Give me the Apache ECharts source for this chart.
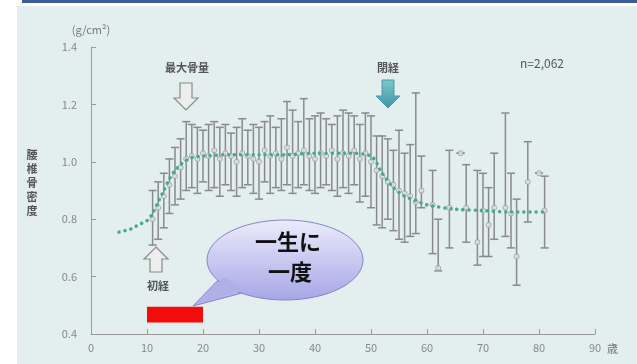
<!DOCTYPE html>
<html>
  <head>
    <meta charset="UTF-8">
    <title>骨密度</title>
    <script src="https://cdn.jsdelivr.net/npm/echarts@6/dist/echarts.min.js"></script>
    <style>
      body { margin: 0; background: #fff; }
    </style>
  </head>
  <body>
    <div id="myChart" style="width: 637px;height:364px;"></div>
    <script type="text/javascript">
      // 年齢ごとの平均値と範囲（下限・上限）
      var ages = [11, 12, 13, 14, 15, 16, 17, 18, 19, 20, 21, 22, 23, 24, 25, 26, 27, 28, 29, 30,
        31, 32, 33, 34, 35, 36, 37, 38, 39, 40, 41, 42, 43, 44, 45, 46, 47, 48, 49, 50,
        51, 52, 53, 54, 55, 56, 57, 58, 59, 61, 62, 64, 66, 67, 69, 70, 71, 72, 74, 75, 76, 78, 80, 81];
      var means = [0.80, 0.84, 0.88, 0.92, 0.95, 0.98, 1.01, 1.02, 1.01, 1.03, 1.02, 1.04, 1.01, 1.03, 1.02, 1.00, 1.03, 1.02, 1.01, 1.00,
        1.04, 1.02, 1.03, 1.01, 1.05, 1.02, 1.03, 1.04, 1.02, 1.01, 1.03, 1.02, 1.04, 1.01, 1.03, 1.02, 1.04, 1.01, 1.03, 1.00,
        0.97, 0.95, 0.93, 0.92, 0.90, 0.89, 0.88, 0.86, 0.90, 0.85, 0.63, 0.84, 1.03, 0.84, 0.72, 0.83, 0.78, 0.84, 0.84, 0.82, 0.67, 0.93, 0.96, 0.83];
      var lows = [0.71, 0.73, 0.77, 0.82, 0.85, 0.87, 0.90, 0.91, 0.89, 0.93, 0.90, 0.91, 0.88, 0.92, 0.90, 0.88, 0.91, 0.92, 0.89, 0.87,
        0.93, 0.89, 0.91, 0.90, 0.92, 0.89, 0.91, 0.92, 0.90, 0.89, 0.91, 0.92, 0.90, 0.88, 0.91, 0.89, 0.92, 0.86, 0.88, 0.84,
        0.78, 0.77, 0.80, 0.76, 0.73, 0.72, 0.74, 0.75, 0.84, 0.68, 0.62, 0.70, 1.03, 0.72, 0.64, 0.67, 0.67, 0.73, 0.74, 0.70, 0.57, 0.79, 0.96, 0.70];
      var highs = [0.90, 0.93, 0.96, 1.01, 1.05, 1.08, 1.14, 1.13, 1.12, 1.11, 1.13, 1.14, 1.12, 1.13, 1.10, 1.12, 1.15, 1.11, 1.13, 1.12,
        1.14, 1.16, 1.12, 1.15, 1.21, 1.18, 1.14, 1.22, 1.15, 1.16, 1.17, 1.15, 1.13, 1.16, 1.18, 1.17, 1.16, 1.13, 1.17, 1.16,
        1.09, 1.09, 1.08, 1.04, 1.11, 1.03, 1.06, 1.24, 1.02, 0.97, 0.80, 1.04, 1.03, 0.99, 0.97, 0.96, 0.91, 1.03, 1.17, 0.96, 0.87, 1.07, 0.96, 0.95];

      // 近似曲線（緑の点線）
      var trendAges = [5, 6, 7, 8, 9, 10, 11, 12, 13, 14, 15, 16, 17, 18, 20, 25, 30, 35, 40, 45, 50, 52, 54, 56, 58, 60, 65, 70, 75, 81];
      var trendVals = [0.755, 0.76, 0.765, 0.775, 0.785, 0.795, 0.82, 0.86, 0.90, 0.94, 0.97, 0.99, 1.005, 1.015, 1.02, 1.025, 1.025, 1.025, 1.03, 1.03, 1.02, 0.96, 0.91, 0.88, 0.865, 0.85, 0.835, 0.83, 0.825, 0.825];

      // 赤い帯（10〜20歳）
      var bandAges = [10, 20];
      var bandVals = [0.44, 0.495];

      var xTicks = [0, 90, 10];
      var yTicks = [0.4, 1.4, 0.2];

      var font = '"Noto Sans CJK JP", "Noto Sans", sans-serif';
      var myChart = echarts.init(document.getElementById('myChart'));

      var barData = ages.map(function (a, i) { return [a, lows[i], highs[i]]; });
      var meanData = ages.map(function (a, i) { return [a, means[i]]; });
      var trendData = trendAges.map(function (a, i) { return [a, trendVals[i]]; });

      function downArrow(cx, y0, y1) {
        return [[cx - 6, y0], [cx + 6, y0], [cx + 6, y1 - 12], [cx + 12, y1 - 12], [cx, y1], [cx - 12, y1 - 12], [cx - 6, y1 - 12]];
      }
      function upArrow(cx, y0, y1) {
        return [[cx, y0], [cx + 12, y0 + 12], [cx + 6, y0 + 12], [cx + 6, y1], [cx - 6, y1], [cx - 6, y0 + 12], [cx - 12, y0 + 12]];
      }

      var option = {
        backgroundColor: '#fff',
        animation: false,
        textStyle: { fontFamily: font },
        grid: { left: 91, right: 42, top: 47, bottom: 30 },
        xAxis: {
          type: 'value',
          min: xTicks[0], max: xTicks[1], interval: xTicks[2],
          name: '歳',
          nameGap: 4,
          nameTextStyle: { color: '#777', fontSize: 11, verticalAlign: 'top', padding: [9, 0, 0, 0] },
          axisLine: { lineStyle: { color: '#999' } },
          axisTick: { inside: true, length: 5, lineStyle: { color: '#999' } },
          axisLabel: { color: '#888', fontSize: 11, margin: 8 },
          splitLine: { show: false }
        },
        yAxis: {
          type: 'value',
          min: yTicks[0], max: yTicks[1], interval: yTicks[2],
          name: '(g/cm²)',
          nameGap: 12,
          nameTextStyle: { color: '#777', fontSize: 11, align: 'center' },
          axisLine: { show: true, lineStyle: { color: '#999' } },
          axisTick: { show: true, inside: true, length: 5, lineStyle: { color: '#999' } },
          axisLabel: { color: '#888', fontSize: 11, margin: 14, formatter: function (v) { return v.toFixed(1); } },
          splitLine: { show: false }
        },
        series: [{
          type: 'custom',
          name: 'band',
          data: [[bandAges[0], bandVals[0], bandAges[1], bandVals[1]]],
          renderItem: function (params, api) {
            var p0 = api.coord([api.value(0), api.value(1)]);
            var p1 = api.coord([api.value(2), api.value(3)]);
            return {
              type: 'rect',
              shape: { x: p0[0], y: p1[1], width: p1[0] - p0[0], height: p0[1] - p1[1] },
              style: { fill: '#f40c0c' }
            };
          },
          z: 3
        }, {
          type: 'custom',
          name: 'range',
          data: barData,
          encode: { x: 0, y: [1, 2] },
          renderItem: function (params, api) {
            var x = api.value(0);
            var lo = api.coord([x, api.value(1)]);
            var hi = api.coord([x, api.value(2)]);
            var hw = 4;
            var st = { stroke: '#8a8a8a', lineWidth: 1.5 };
            return {
              type: 'group',
              children: [
                { type: 'line', shape: { x1: lo[0], y1: lo[1], x2: hi[0], y2: hi[1] }, style: st },
                { type: 'line', shape: { x1: hi[0] - hw, y1: hi[1], x2: hi[0] + hw, y2: hi[1] }, style: st },
                { type: 'line', shape: { x1: lo[0] - hw, y1: lo[1], x2: lo[0] + hw, y2: lo[1] }, style: st }
              ]
            };
          },
          z: 4
        }, {
          type: 'scatter',
          name: 'mean',
          data: meanData,
          symbol: 'circle',
          symbolSize: 5,
          itemStyle: { color: '#dde8e8', borderColor: '#999', borderWidth: 1 },
          z: 5
        }, {
          type: 'line',
          name: 'trend',
          data: trendData,
          smooth: 0.3,
          symbol: 'none',
          lineStyle: { color: '#45aa94', width: 3.5, type: [0.1, 6], cap: 'round' },
          z: 6
        }],
        graphic: [
          { type: 'rect', z: -10, shape: { x: 17, y: 6, width: 620, height: 358 }, style: { fill: '#e3eeee' } },
          { type: 'rect', z: -10, shape: { x: 22, y: 0, width: 615, height: 3 }, style: { fill: '#3d5d94' } },
          { type: 'text', x: 32, y: 148, style: { text: '腰\n椎\n骨\n密\n度', fill: '#555', font: 'bold 11px ' + font, lineHeight: 14, align: 'center' } },
          { type: 'text', x: 187, y: 62, style: { text: '最大骨量', fill: '#555', font: 'bold 11px ' + font, align: 'center' } },
          { type: 'polygon', shape: { points: downArrow(186, 83, 110) }, style: { fill: '#eceeee', stroke: '#8a8a8a', lineWidth: 1.2 } },
          { type: 'text', x: 388, y: 62, style: { text: '閉経', fill: '#555', font: 'bold 11px ' + font, align: 'center' } },
          { type: 'polygon', shape: { points: downArrow(388, 80, 108) }, style: {
            fill: new echarts.graphic.LinearGradient(0, 0, 0, 1, [{ offset: 0, color: '#7fc6c8' }, { offset: 1, color: '#3c97a8' }]),
            stroke: '#4a9aa6', lineWidth: 1 } },
          { type: 'text', x: 520, y: 57, style: { text: 'n=2,062', fill: '#555', font: '12px ' + font } },
          { type: 'polygon', shape: { points: upArrow(156, 247, 272) }, style: { fill: '#eceeee', stroke: '#8a8a8a', lineWidth: 1.2 } },
          { type: 'text', x: 158, y: 280, style: { text: '初経', fill: '#555', font: 'bold 11px ' + font, align: 'center' } },
          { type: 'polygon', z: 10, shape: { points: [[222, 276], [246, 292], [193, 306]] }, style: { fill: '#b4b4ea', stroke: '#8585c8', lineWidth: 1 } },
          { type: 'ellipse', z: 10, shape: { cx: 285, cy: 260, rx: 78, ry: 40 }, style: {
            fill: new echarts.graphic.LinearGradient(0, 0, 0, 1, [{ offset: 0, color: '#ececfc' }, { offset: 1, color: '#a6a6e6' }]),
            stroke: '#8585c8', lineWidth: 1 } },
          { type: 'polygon', z: 11, shape: { points: [[224, 277], [244, 290], [197, 304]] }, style: { fill: '#b0b0e8' } },
          { type: 'text', z: 12, x: 288, y: 242, style: { text: '一生に', fill: '#111', font: 'bold 22px ' + font, align: 'center', verticalAlign: 'middle' } },
          { type: 'text', z: 12, x: 290, y: 272, style: { text: '一度', fill: '#111', font: 'bold 22px ' + font, align: 'center', verticalAlign: 'middle' } }
        ]
      };
      myChart.setOption(option);
    </script>
  </body>
</html>
